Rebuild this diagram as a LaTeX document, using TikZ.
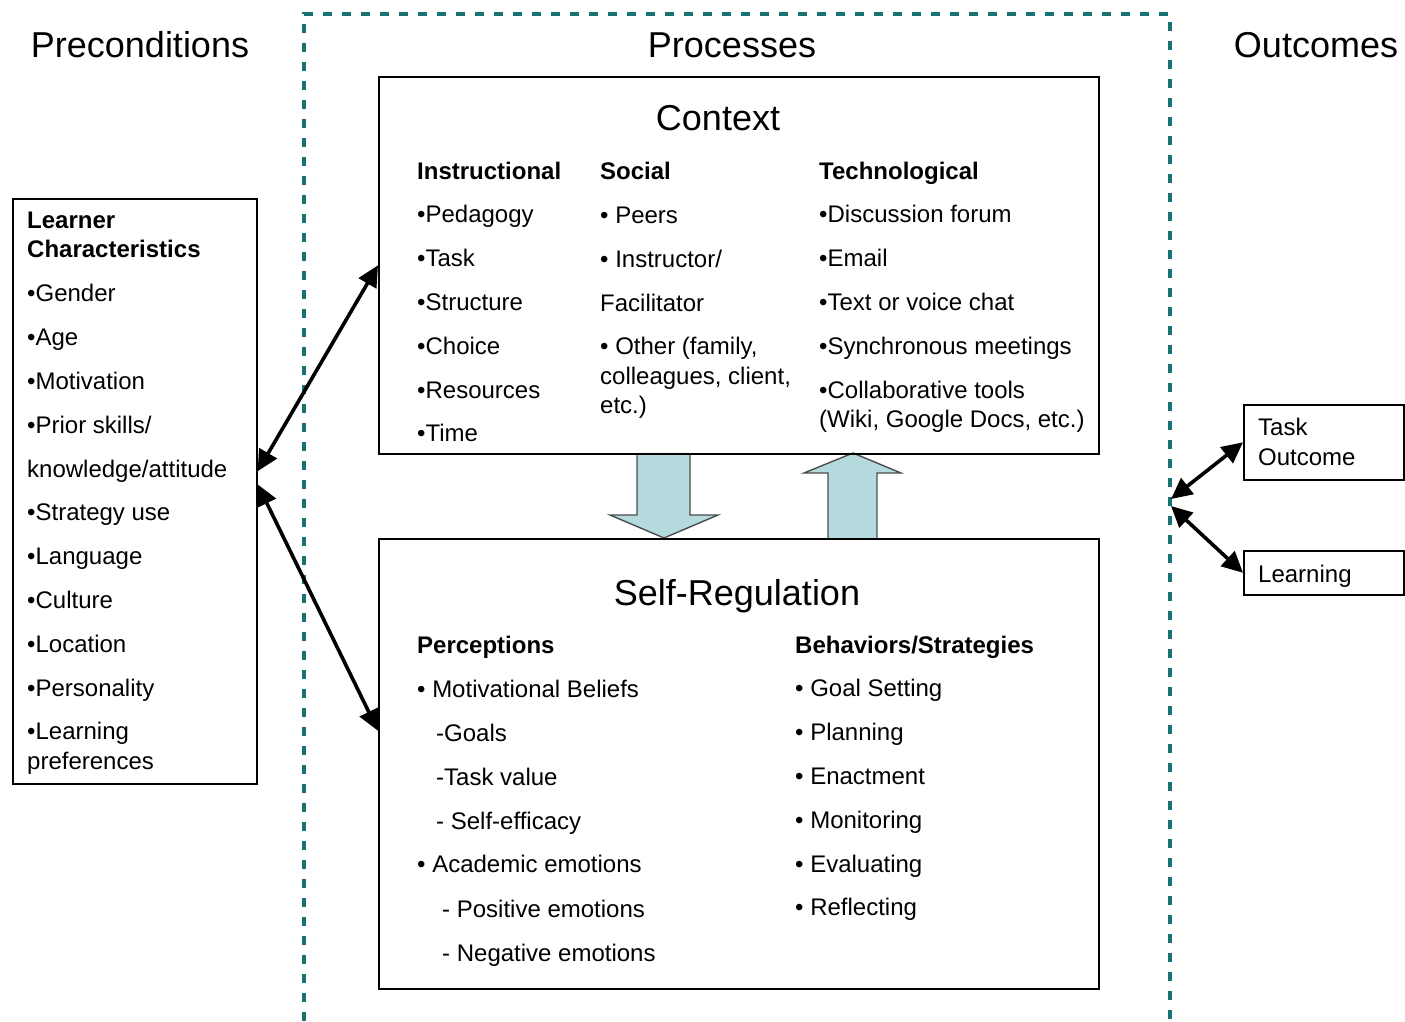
\documentclass[tikz,border=0pt]{standalone}
\usepackage{fontspec}
\setmainfont{Liberation Sans}
\usetikzlibrary{positioning, arrows.meta}

\definecolor{frameteal}{RGB}{25,115,115}
\definecolor{blockfill}{RGB}{180,218,222}

\begin{document}
\begin{tikzpicture}[
    x=1pt, y=-1pt,
    % Estilos de Nodos
    box/.style={draw=black, line width=1.6pt, inner sep=0pt, anchor=north west},
    item/.style={anchor=base west, inner sep=0pt, font=\fontsize{24}{29}\selectfont},
    head/.style={item, font=\fontsize{24}{29}\selectfont\bfseries},
    title/.style={anchor=base, inner sep=0pt, font=\fontsize{36}{43}\selectfont},
    % Estilos de Flechas
    link/.style={{Triangle[length=21pt,width=20pt]}-{Triangle[length=21pt,width=20pt]}, line width=3.6pt},
    block/.style={draw=black!70, fill=blockfill, line width=1.4pt},
    frame/.style={draw=frameteal, line width=3.4pt, dash pattern=on 9pt off 10pt}
]
\useasboundingbox (0,0) rectangle (1405,1022);

% --- Titulos de Columnas ---
\node[title] (pre) at (140,58) {Preconditions};
\node[title] (proc) at (732,58) {Processes};
\node[title] (out) at (1316,58) {Outcomes};

% --- Marco de Procesos ---
\draw[frame] (304,1040) -- (304,14) -- (1170,14) -- (1170,1040);

% --- Flechas de Bloque (Context <-> Self-Regulation) ---
\fill[blockfill] (637,453) -- (637,515) -- (610,515) -- (664,538) -- (718,515) -- (690,515) -- (690,453) -- cycle;
\draw[block, fill=none] (637,453) -- (637,515) -- (610,515) -- (664,538) -- (718,515) -- (690,515) -- (690,453);
\fill[blockfill] (828,538) -- (828,473) -- (804,473) -- (853,453) -- (901,473) -- (877,473) -- (877,538) -- cycle;
\draw[block, fill=none] (828,538) -- (828,473) -- (804,473) -- (853,453) -- (901,473) -- (877,473) -- (877,538);

% --- Cajas ---
\node[box, minimum width=244pt, minimum height=585pt] (learner) at (12,198) {};
\node[box, minimum width=720pt, minimum height=377pt] (context) at (378,76) {};
\node[box, minimum width=720pt, minimum height=450pt] (selfreg) at (378,538) {};
\node[box, minimum width=160pt, minimum height=75pt] (task) at (1243,404) {};
\node[box, minimum width=160pt, minimum height=44pt] (learn) at (1243,550) {};

% === PRECONDITIONS ===
\node[head] (lc-h1) at (27,228) {Learner};
\node[head] (lc-h2) at (27,257) {Characteristics};
\foreach \t [count=\i] in {•Gender, •Age, •Motivation, •Prior skills/, knowledge/attitude,
    •Strategy use, •Language, •Culture, •Location, •Personality, •Learning}
    \node[item] (lc-\i) at (27,258+43.8*\i) {\t};
\node[item] (lc-12) at (27,769) {preferences};

% === CONTEXT ===
\node[title] (ctx-t) at (718,131) {Context};
\node[head] (ins-h) at (417,179) {Instructional};
\foreach \t [count=\i] in {•Pedagogy, •Task, •Structure, •Choice, •Resources, •Time}
    \node[item] (ins-\i) at (417,179+43.8*\i) {\t};
\node[head] (soc-h) at (600,179) {Social};
\node[item] (soc-1) at (600,223) {• Peers};
\node[item] (soc-2) at (600,267) {• Instructor/};
\node[item] (soc-3) at (600,311) {Facilitator};
\node[item] (soc-4) at (600,354) {• Other (family,};
\node[item] (soc-5) at (600,384) {colleagues, client,};
\node[item] (soc-6) at (600,413) {etc.)};
\node[head] (tec-h) at (819,179) {Technological};
\foreach \t [count=\i] in {•Discussion forum, •Email, •Text or voice chat, •Synchronous meetings, •Collaborative tools}
    \node[item] (tec-\i) at (819,179+43.8*\i) {\t};
\node[item] (tec-6) at (819,427) {(Wiki, Google Docs, etc.)};

% === SELF-REGULATION ===
\node[title] (sr-t) at (737,605) {Self-Regulation};
\node[head] (per-h) at (417,653) {Perceptions};
\node[item] (per-1) at (417,697) {• Motivational Beliefs};
\node[item] (per-2) at (436,741) {-Goals};
\node[item] (per-3) at (436,785) {-Task value};
\node[item] (per-4) at (436,829) {- Self-efficacy};
\node[item] (per-5) at (417,872) {• Academic emotions};
\node[item] (per-6) at (442,917) {- Positive emotions};
\node[item] (per-7) at (442,961) {- Negative emotions};
\node[head] (beh-h) at (795,653) {Behaviors/Strategies};
\foreach \t [count=\i] in {• Goal Setting, • Planning, • Enactment, • Monitoring, • Evaluating, • Reflecting}
    \node[item] (beh-\i) at (795,653+43.8*\i) {\t};

% === OUTCOMES ===
\node[item] (task-1) at (1258,435) {Task};
\node[item] (task-2) at (1258,465) {Outcome};
\node[item] (learn-1) at (1258,582) {Learning};

% --- Flechas de Relacion ---
\coordinate (hub-a) at (1171,499);
\coordinate (hub-b) at (1171,506);
\draw[link] ([yshift=20pt]learner.east) -- (context.west);
\draw[link] ([yshift=7pt]learner.east) -- ([yshift=33pt]selfreg.west);
\draw[link] (hub-a) -- (task.west);
\draw[link] (hub-b) -- (learn.west);

\end{tikzpicture}
\end{document}
